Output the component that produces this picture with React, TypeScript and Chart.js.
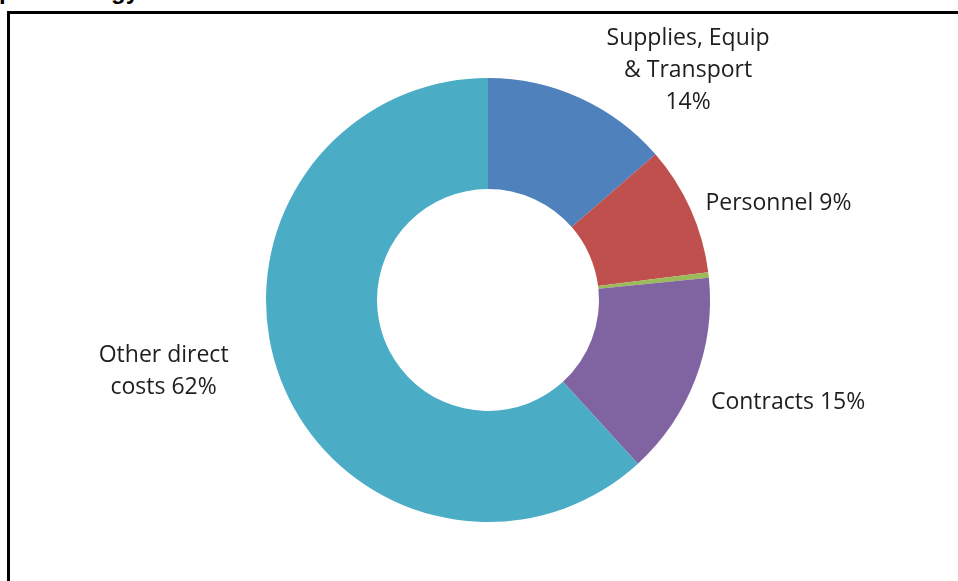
import React, { useEffect, useRef } from "react";
import { Chart, registerables } from "chart.js";

Chart.register(...registerables);

const categories = [
  "Supplies, Equip & Transport",
  "Personnel",
  "Other",
  "Contracts",
  "Other direct costs",
];
const values = [13.6, 9.4, 0.4, 14.8, 61.8];
const labelLines: string[][] = [
  ["Supplies, Equip", "& Transport", "14%"],
  ["Personnel 9%"],
  [],
  ["Contracts 15%"],
  ["Other direct", "costs 62%"],
];
const colors = ["#4F81BD", "#C0504D", "#9BBB59", "#8064A2", "#4BACC6"];

// label placement: angle shift (deg) from slice mid-angle, distance as multiple of outer radius
const labelShift = [16.3, 5.3, 0, -2.3, 9.2];
const labelDist = [1.38, 1.382, 1.3, 1.426, 1.494];

const labelPlugin = {
  id: "sliceLabels",
  afterDatasetsDraw(chart: any) {
    const ctx = chart.ctx;
    const meta = chart.getDatasetMeta(0);
    ctx.save();
    ctx.font = '23px "Open Sans"';
    ctx.fillStyle = "#1e1e1e";
    ctx.textAlign = "center";
    ctx.textBaseline = "middle";
    const lh = 32;
    meta.data.forEach((arc: any, i: number) => {
      const lines = labelLines[i];
      if (!lines || !lines.length) return;
      const p = arc.getProps(["x", "y", "startAngle", "endAngle", "outerRadius"], true);
      const mid = (p.startAngle + p.endAngle) / 2 + (labelShift[i] * Math.PI) / 180;
      const r = p.outerRadius * labelDist[i];
      const cx = p.x + Math.cos(mid) * r;
      const cy = p.y + Math.sin(mid) * r + 2;
      const y0 = cy - ((lines.length - 1) * lh) / 2;
      lines.forEach((t, k) => ctx.fillText(t, cx, y0 + k * lh));
    });
    ctx.restore();
  },
};

export default function App() {
  const ref = useRef<HTMLCanvasElement>(null);
  useEffect(() => {
    if (!ref.current) return;
    const chart = new Chart(ref.current, {
      type: "doughnut",
      data: {
        labels: categories,
        datasets: [
          {
            data: values,
            backgroundColor: colors,
            borderWidth: 0,
          },
        ],
      },
      options: {
        responsive: false,
        animation: false,
        cutout: "50%",
        layout: { padding: { top: 78, bottom: 59, left: 266, right: 248 } },
        plugins: { legend: { display: false }, tooltip: { enabled: false } },
      },
      plugins: [labelPlugin],
    });
    return () => chart.destroy();
  }, []);
  return (
    <div
      style={{
        position: "fixed",
        left: 0,
        top: 0,
        width: 958,
        height: 581,
        overflow: "hidden",
        background: "#fff",
      }}
    >
      <div
        style={{
          position: "absolute",
          left: -1,
          top: -21,
          font: 'bold 24px "Liberation Sans", Arial, sans-serif',
          lineHeight: "24px",
          color: "#000",
          whiteSpace: "nowrap",
        }}
      >
        per Strategy
      </div>
      <div
        style={{
          position: "absolute",
          left: 7,
          top: 11,
          width: 1000,
          height: 700,
          border: "3px solid #000",
          boxSizing: "border-box",
        }}
      />
      <canvas
        ref={ref}
        width={958}
        height={581}
        style={{ position: "absolute", left: 0, top: 0, width: 958, height: 581 }}
      />
    </div>
  );
}
